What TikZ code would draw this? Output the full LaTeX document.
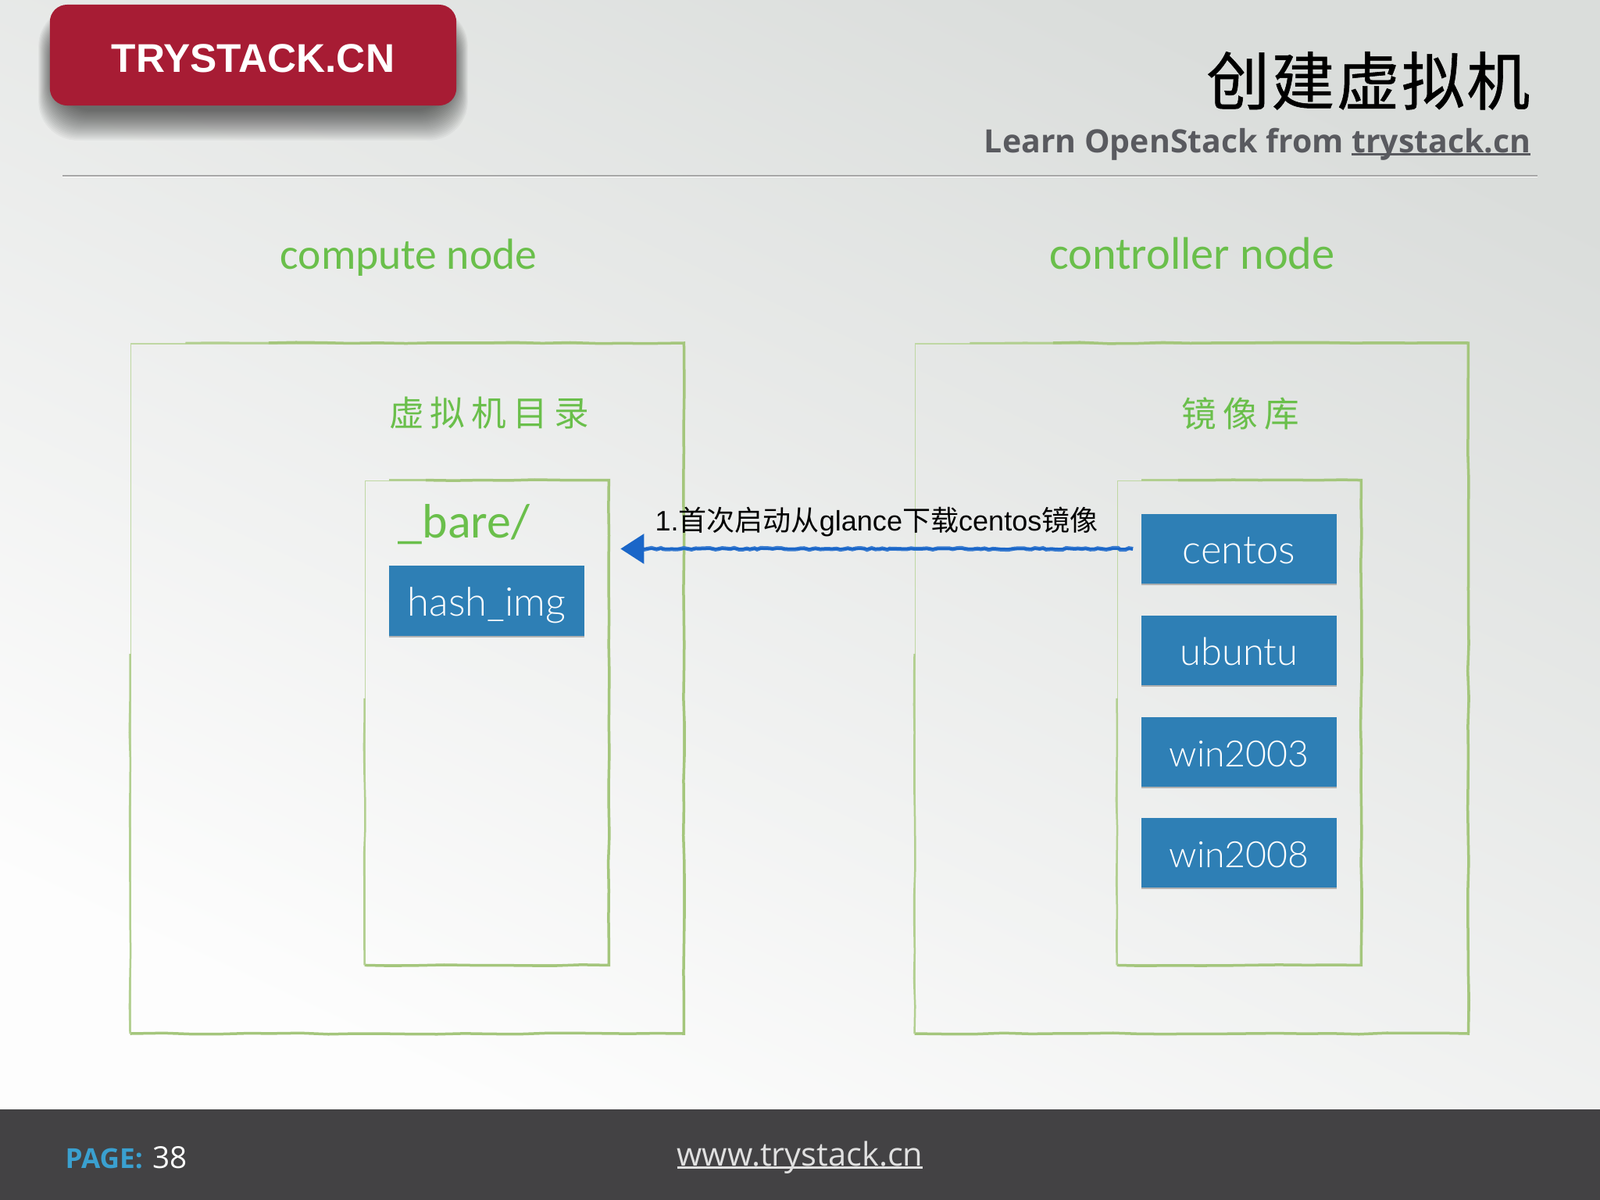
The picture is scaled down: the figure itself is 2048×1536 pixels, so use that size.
\documentclass[tikz,border=0pt]{standalone}
\usepackage{fontspec}
\setmainfont{Liberation Sans}
\newfontfamily\cjkfont{Noto Sans CJK SC}
\newfontfamily\cjkspaced[LetterSpace=18]{Noto Sans CJK SC}
\newfontfamily\titlefont[LetterSpace=3,FakeBold=0.7]{Noto Sans CJK SC}
\newfontfamily\subfont{Open Sans}
\newfontfamily\handfont{Carlito}
\newfontfamily\lightfont{Lato Light}
\usetikzlibrary{positioning}
\usetikzlibrary{shadows}
\usetikzlibrary{backgrounds}
\usetikzlibrary{calc}
\usetikzlibrary{arrows.meta}
\usetikzlibrary{decorations.pathmorphing}
\definecolor{logored}{HTML}{A71C34}
\definecolor{boxblue}{HTML}{2E7FB5}
\definecolor{handgreen}{HTML}{6ABF4B}
\definecolor{framegreen}{HTML}{A4C67C}
\definecolor{arrowblue}{HTML}{1A66C8}
\definecolor{footgrey}{HTML}{434244}
\definecolor{subgrey}{HTML}{595A5F}
\definecolor{pageblue}{HTML}{3AA0D0}
\definecolor{bgtop}{HTML}{DADDDB}
\definecolor{bgmid}{HTML}{E8E8EA}
\definecolor{bgbottom}{HTML}{FDFDFD}
\newcommand{\fsize}[1]{\fontsize{#1}{#1}\selectfont}
\newcommand{\ultext}[1]{\setbox0\hbox{#1}\rlap{\rule[-1pt]{\wd0}{0.7pt}}\box0}
\tikzset{
  outerframe/.style={rectangle, draw=framegreen!70, line width=0.015cm,
      minimum width=7.07cm, minimum height=8.82cm},
  innerframe/.style={rectangle, draw=framegreen!70, line width=0.015cm,
      minimum width=3.11cm, minimum height=6.19cm},
  roughline/.style={decorate, decoration={random steps,segment length=0.35cm,amplitude=0.008cm}},
  frameedge/.style={draw=framegreen, line width=0.035cm, roughline},
  framemid/.style={draw=framegreen!85, line width=0.025cm, roughline},
  imgbox/.style={rectangle, fill=boxblue, text=white, inner sep=0pt,
      minimum width=2.5cm, minimum height=0.89cm,
      text height=0.46cm, text depth=0.08cm,
      font=\lightfont\fsize{14.4},
      drop shadow={shadow xshift=0cm, shadow yshift=-0.02cm, opacity=.55}},
  handlabel/.style={text=handgreen, inner sep=0pt, anchor=base},
  cjklabel/.style={text=handgreen, inner sep=0pt, font=\cjkspaced\fsize{12.7}},
  fetcharrow/.style={draw=arrowblue, line width=0.03cm,
      -{Triangle[length=0.3cm,width=0.38cm]}},
  fetchfuzz/.style={draw=arrowblue!85, line width=0.05cm,
      decorate, decoration={random steps,segment length=0.05cm,amplitude=0.012cm}}
}
\begin{document}
\begin{tikzpicture}[x=0.01cm,y=-0.01cm]
\useasboundingbox (0,0) rectangle (2048,1536);

\node[rectangle, fill=logored, text=white, rounded corners=0.22cm, inner sep=0pt,
      minimum width=5.2cm, minimum height=1.29cm, text height=0.43cm, text depth=0cm,
      font=\bfseries\fsize{14.6}] (logo) at (324,70.5) {TRYSTACK.CN};
\node[anchor=base east, inner sep=0pt, font=\titlefont\fsize{23}] (title) at (1959,134) {创建虚拟机};
\node[anchor=base east, inner sep=0pt, text=subgrey, font=\subfont\bfseries\fsize{11.66}] (subtitle) at (1960,195)
  {Learn OpenStack from \ultext{trystack.cn}};
\coordinate (ruleleft) at (80,225);
\coordinate (ruleright) at (1968,225);
\draw[black!35, line width=0.015cm] (ruleleft) -- (ruleright);
\draw[white, line width=0.012cm] ([yshift=-0.015cm]ruleleft) -- ([yshift=-0.015cm]ruleright);

\node[handlabel, font=\handfont\fsize{15.8}] (computelabel) at (523,344) {compute node};
\node[handlabel, font=\handfont\fsize{16.6}] (controllerlabel) at (1526,344) {controller node};

\node[outerframe] (compute) at (521,881) {};
\node[outerframe] (controller) at (1525,881) {};
\node[innerframe] (bare) at (623,925) {};
\node[innerframe] (images) at (1586,925) {};
\foreach \f in {compute,controller,bare,images} {
  \draw[frameedge] ($(\f.north west)!0.25!(\f.north east)$) -- (\f.north east) -- (\f.south east) -- (\f.south west);
  \draw[framemid] ($(\f.north west)!0.1!(\f.north east)$) -- ($(\f.north west)!0.25!(\f.north east)$);
  \draw[framemid] (\f.south west) -- ($(\f.north west)!0.45!(\f.south west)$);
}

\node[cjklabel] (vmdir) at (626,529) {虚拟机目录};
\node[cjklabel] (repo) at (1588,529) {镜像库};
\node[handlabel, font=\handfont\fsize{17.6}] (barelabel) at (594,688) {\_bare/};

\node[imgbox] (hash) at (623,769) {hash\_img};
\node[imgbox] (centos) at (1586,702.5) {centos};
\node[imgbox, below=0.395cm of centos, font=\lightfont\fsize{13.9}] (ubuntu) {ubuntu};
\node[imgbox, below=0.395cm of ubuntu, font=\lightfont\fsize{13.2}] (win2003) {win2003};
\node[imgbox, below=0.385cm of win2003, font=\lightfont\fsize{13.2}] (win2008) {win2008};

\draw[fetchfuzz] ([xshift=-0.1cm]centos.west) -- ([xshift=0.35cm]centos.west -| bare.east);
\draw[fetcharrow, shorten >=0.15cm, shorten <=0.1cm] (centos.west) -- (centos.west -| bare.east);
\node[anchor=base, inner sep=0pt, font=\fsize{10.25}] (fetchlabel) at (1122,679)
  {1.{\cjkfont 首次启动从}glance{\cjkfont 下载}centos{\cjkfont 镜像}};

\node[anchor=base west, inner sep=0pt, font=\subfont\fsize{10}] (page) at (83,1495)
  {\textcolor{pageblue}{\bfseries PAGE:}\hspace{1pt} \textcolor{white}{\fsize{11}38}};
\node[anchor=base, inner sep=0pt, text=black!12, font=\subfont\fsize{11.83}] (site) at (1024,1492)
  {\ultext{www.trystack.cn}};

\begin{scope}[on background layer]
  \shade[top color=bgtop, middle color=bgmid, bottom color=bgbottom, shading angle=-25]
     (0,0) rectangle (2048,1420);
  \fill[footgrey] (0,1420) rectangle (2048,1536);
  \foreach \s in {0,1,...,19} {
    \fill[black, opacity=.035, rounded corners=0.5cm]
      ($(logo.north west)+(-14+\s,4+\s)$) rectangle ($(logo.south east)+(14-\s,44-2*\s)$);
  }
\end{scope}
\end{tikzpicture}
\end{document}
